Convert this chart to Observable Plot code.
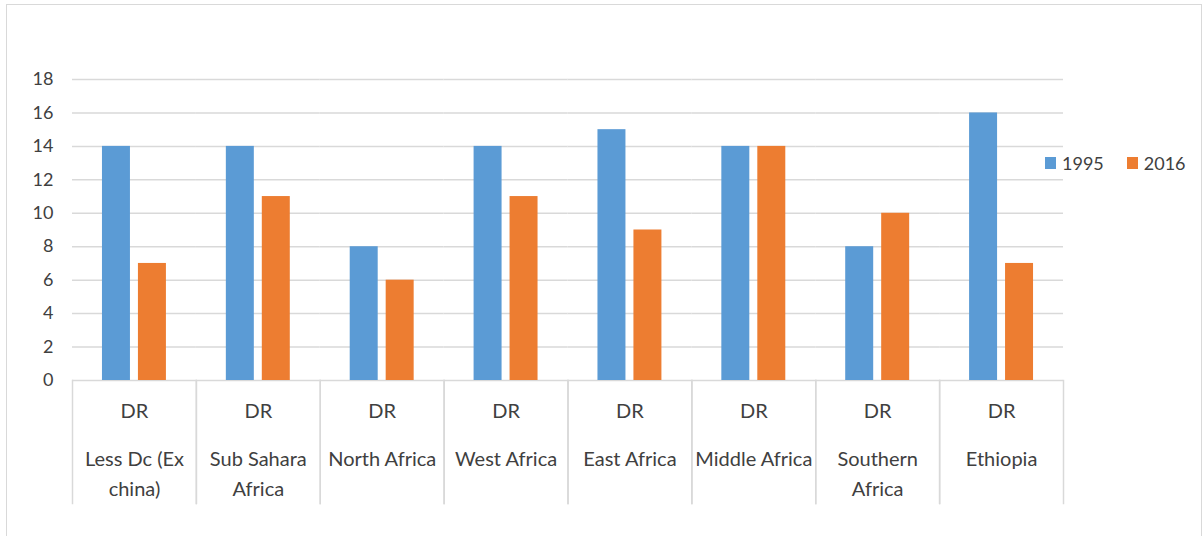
<!DOCTYPE html>
<html>
<head>
<meta charset="utf-8">
<script src="https://cdn.jsdelivr.net/npm/d3@7"></script>
<script src="https://cdn.jsdelivr.net/npm/@observablehq/plot@0.6"></script>
<style>
  body { margin: 0; background: #fff; font-family: Lato, "Open Sans", sans-serif; }
  #wrap { position: relative; width: 1203px; height: 536px; overflow: hidden; }
  #border { position: absolute; left: 6px; top: 4px; width: 1196px; height: 600px; border: 1.5px solid #d9d9d9; box-sizing: border-box; }
  #chart { position: absolute; left: 0; top: 0; }
  #legend { position: absolute; left: 1045px; top: 151px; display: flex; align-items: center; font-size: 18px; color: #404040; line-height: 24px; }
  #legend .item { display: flex; align-items: center; margin-right: 23px; }
  #legend .sw { width: 11px; height: 12px; margin-right: 6px; }
</style>
</head>
<body>
<div id="wrap">
  <div id="border"></div>
  <div id="chart"></div>
  <div id="legend"></div>
</div>
<script>
// Regions compared, and their wrapped axis labels
const regions = ["Less Dc (Ex china)", "Sub Sahara Africa", "North Africa", "West Africa", "East Africa", "Middle Africa", "Southern Africa", "Ethiopia"];
const regionLabels = ["Less Dc (Ex\nchina)", "Sub Sahara\nAfrica", "North Africa", "West Africa", "East Africa", "Middle Africa", "Southern\nAfrica", "Ethiopia"];
const indicator = "DR";
const years = ["1995", "2016"];
const yearColors = ["#5B9BD5", "#ED7D31"];
const values1995 = [14, 14, 8, 14, 15, 14, 8, 16];
const values2016 = [7, 11, 6, 11, 9, 14, 10, 7];
const yTicks = [0, 2, 4, 6, 8, 10, 12, 14, 16, 18];

const rows = regions.flatMap((r, i) => [
  {region: r, year: years[0], value: values1995[i]},
  {region: r, year: years[1], value: values2016[i]}
]);
const labelRows = regions.map((r, i) => ({region: r, label: regionLabels[i], indicator}));

const grid = "#d9d9d9";
const plotHeight = 536 - 79 - 156;

const chart = Plot.plot({
  width: 1203,
  height: 536,
  marginLeft: 72,
  marginRight: 140,
  marginTop: 79,
  marginBottom: 156,
  style: {fontFamily: "Lato, 'Open Sans', sans-serif", fontSize: "20px", color: "#404040", background: "transparent", overflow: "visible"},
  fx: {domain: regions, padding: 0, round: false, axis: null, label: null},
  x: {domain: years, paddingInner: 0.222, paddingOuter: 0.833, round: false, axis: null},
  y: {domain: [0, 18], ticks: yTicks, tickSize: 0, tickPadding: 19, label: null},
  color: {domain: years, range: yearColors},
  marks: [
    Plot.ruleY(yTicks, {stroke: grid, strokeWidth: 1.5}),
    // category separators hanging below the baseline
    Plot.frame({anchor: "left", stroke: grid, strokeWidth: 1.5, insetTop: plotHeight, insetBottom: -123}),
    Plot.frame({anchor: "right", stroke: grid, strokeWidth: 1.5, insetTop: plotHeight, insetBottom: -123}),
    Plot.barY(rows, {fx: "region", x: "year", y: "value", fill: "year"}),
    Plot.text(labelRows, {fx: "region", frameAnchor: "bottom", text: "indicator", dy: 37, fill: "#404040"}),
    Plot.text(labelRows, {fx: "region", frameAnchor: "bottom", text: "label", lineAnchor: "top", lineHeight: 1.5, dy: 64, fill: "#404040"})
  ]
});
chart.querySelectorAll("[aria-label='y-axis tick label']").forEach(g => g.setAttribute("font-size", "18px"));
document.getElementById("chart").append(chart);

// Legend
const legend = d3.select("#legend");
years.forEach((y, i) => {
  const item = legend.append("div").attr("class", "item");
  item.append("div").attr("class", "sw").style("background", yearColors[i]);
  item.append("span").text(y);
});
</script>
</body>
</html>
